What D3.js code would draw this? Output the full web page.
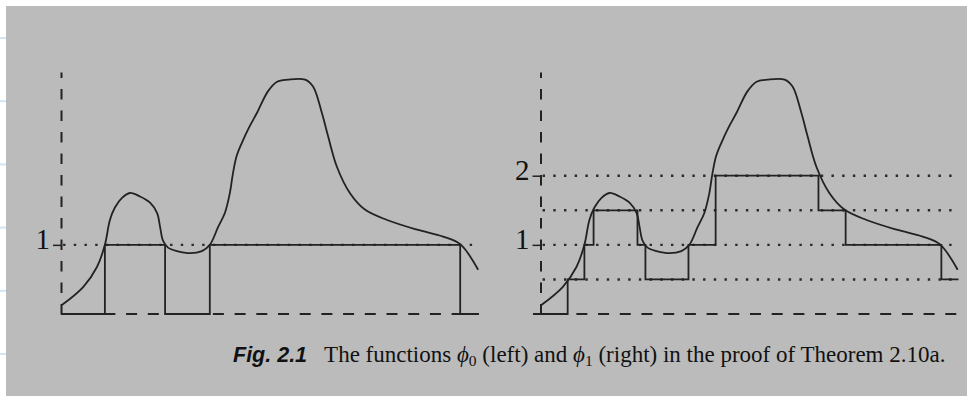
<!DOCTYPE html>
<html>
<head>
<meta charset="utf-8">
<script src="https://cdn.jsdelivr.net/npm/d3@7"></script>
<style>
  body { margin: 0; background: #fff; }
  svg { display: block; }
</style>
</head>
<body>
<div id="fig"></div>
<script>
// the function f (t from 0 to 10, f in y units)
const curveT = [0.02, 0.53, 0.86, 1.05, 1.17, 1.29, 1.46, 1.65, 1.89, 2.13, 2.30, 2.37, 2.44, 2.56, 2.78, 3.09, 3.37, 3.56, 3.76, 3.92, 4.04, 4.11, 4.20, 4.33, 4.50, 4.69, 4.95, 5.17, 5.43, 5.84, 6.03, 6.24, 6.39, 6.60, 6.91, 7.27, 7.80, 8.52, 9.14, 9.55, 9.98];
const curveV = [0.13, 0.39, 0.68, 1.00, 1.36, 1.54, 1.68, 1.75, 1.70, 1.61, 1.46, 1.26, 1.06, 0.96, 0.91, 0.88, 0.91, 1.00, 1.26, 1.46, 1.75, 2.02, 2.28, 2.48, 2.70, 2.91, 3.22, 3.36, 3.39, 3.39, 3.29, 2.91, 2.57, 2.13, 1.75, 1.51, 1.36, 1.22, 1.12, 1.01, 0.64];

// step functions: value holds from each start to the next one
const phi0T = [0, 1.05, 2.49, 3.56, 9.55, 10];
const phi0V = [0, 1, 0, 1, 0, 0];
const phi1T = [0, 0.65, 1.05, 1.27, 2.32, 2.51, 3.54, 4.19, 6.65, 7.30, 9.59, 10];
const phi1V = [0, 0.5, 1, 1.5, 1, 0.5, 1, 2, 1.5, 1, 0.5, 0.5];

// dotted levels and labelled ticks of each panel
const levels0 = [1];
const levels1 = [0.5, 1, 1.5, 2];
const ticks0 = [1];
const ticks1 = [1, 2];

const width = 967;
const height = 396;
const ink = "#222";

const svg = d3.select("#fig").append("svg")
  .attr("width", width)
  .attr("height", height)
  .attr("viewBox", [0, 0, width, height]);

// scanned page: grey area with a white edge top and left
svg.append("rect").attr("width", width).attr("height", height).attr("fill", "#fff");
svg.append("rect").attr("x", 6).attr("y", 6).attr("width", width - 6).attr("height", height - 6).attr("fill", "#bbbbbb");
svg.selectAll(".rule").data(d3.range(37, height, 63.2)).enter()
  .append("rect")
  .attr("x", 0).attr("y", (d) => d).attr("width", 6).attr("height", 2)
  .attr("fill", "#cfe6f6");

const y = d3.scaleLinear([0, 3.5], [314, 72]);
const curve = curveT.map((t, i) => ({ t: t, v: curveV[i] }));

function panel(x, steps, levels, ticks, baseStart) {
  const g = svg.append("g");

  // baseline, dashed
  g.append("line")
    .attr("x1", x(baseStart)).attr("x2", x(10))
    .attr("y1", y(0)).attr("y2", y(0))
    .attr("stroke", ink).attr("stroke-width", 2)
    .attr("stroke-dasharray", "11,10.7");

  // dotted levels
  g.selectAll(".level").data(levels).enter()
    .append("line")
    .attr("x1", x(0.05)).attr("x2", x(9.9))
    .attr("y1", (d) => y(d)).attr("y2", (d) => y(d))
    .attr("stroke", "#2a2a2a").attr("stroke-width", 2.4)
    .attr("stroke-dasharray", "2.4,8.3");

  // y axis, dashed
  const axis = g.append("g")
    .attr("transform", `translate(${x(0)},0)`)
    .call(d3.axisLeft(y).tickValues(ticks).tickSize(8).tickPadding(3).tickSizeOuter(0).tickFormat(d3.format("d")));
  axis.select(".domain")
    .attr("stroke", ink).attr("stroke-width", 2)
    .attr("stroke-dasharray", "10.5,11");
  axis.selectAll(".tick line").attr("stroke", ink).attr("stroke-width", 1.5);
  axis.selectAll(".tick text")
    .attr("fill", "#111")
    .attr("font-family", "'Liberation Serif', 'Times New Roman', serif")
    .attr("font-size", 29)
    .attr("dy", "0.12em");

  // the function
  g.append("path")
    .datum(curve)
    .attr("fill", "none").attr("stroke", ink).attr("stroke-width", 1.8)
    .attr("d", d3.line().x((d) => x(d.t)).y((d) => y(d.v)).curve(d3.curveCatmullRom.alpha(0.5)));

  // the step function
  g.append("path")
    .datum(steps)
    .attr("fill", "none").attr("stroke", ink).attr("stroke-width", 1.8)
    .attr("d", d3.line().x((d) => x(d.t)).y((d) => y(d.v)).curve(d3.curveStepAfter));
}

const x0 = d3.scaleLinear([0, 10], [61, 479]);
const x1 = d3.scaleLinear([0, 10], [540.5, 958.5]);

panel(x0, phi0T.map((t, i) => ({ t: t, v: phi0V[i] })), levels0, ticks0, 0);
panel(x1, phi1T.map((t, i) => ({ t: t, v: phi1V[i] })), levels1, ticks1, -0.18);

// caption
const cap = svg.append("text")
  .attr("x", 233).attr("y", 362)
  .attr("fill", "#111")
  .attr("font-family", "'Liberation Serif', 'Times New Roman', serif")
  .attr("font-size", 23);
cap.append("tspan")
  .attr("font-family", "'Liberation Sans', Arial, sans-serif")
  .attr("font-size", 21.5)
  .attr("font-weight", "bold").attr("font-style", "italic")
  .text("Fig. 2.1");
cap.append("tspan").attr("dx", 17).text("The functions ");
cap.append("tspan").attr("font-style", "italic").text("ϕ");
cap.append("tspan").attr("font-size", 15.5).attr("dy", 4).text("0");
cap.append("tspan").attr("dy", -4).text(" (left) and ");
cap.append("tspan").attr("font-style", "italic").text("ϕ");
cap.append("tspan").attr("font-size", 15.5).attr("dy", 4).text("1");
cap.append("tspan").attr("dy", -4).text(" (right) in the proof of Theorem 2.10a.");
</script>
</body>
</html>
